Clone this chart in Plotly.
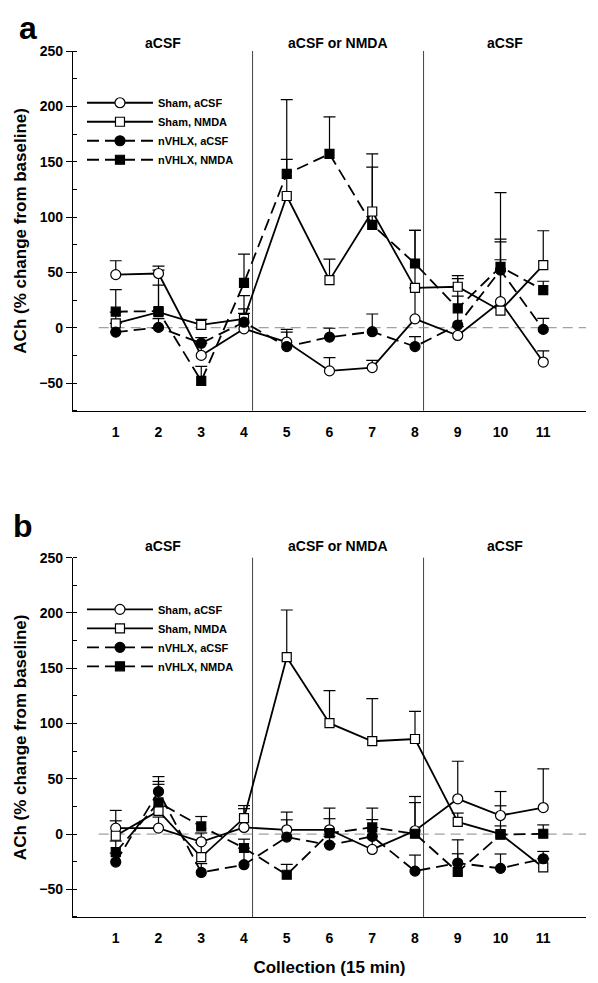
import plotly.graph_objects as go

# ---------------- data ----------------
collections = list(range(1, 12))
x_tick_labels = [str(c) for c in collections]
y_tick_values = [-50, 0, 50, 100, 150, 200, 250]
series_names = ["Sham, aCSF", "Sham, NMDA", "nVHLX, aCSF", "nVHLX, NMDA"]
phase_labels = ["aCSF", "aCSF or NMDA", "aCSF"]
phase_centers = [2.1, 6.2, 10.1]
phase_bounds = [4.2, 8.2]

# panel a: mean % change and upper SEM
a_sham_acsf = [48, 49, -25, -1, -13, -39, -36, 8, -7, 23.5, -31]
a_sham_acsf_err = [12.5, 6.7, 11, 18, 11.5, 12, 6.5, 28, 8, 54, 10]
a_sham_nmda = [4, 14, 2.5, 8, 119, 43, 105, 36, 37, 15.4, 56.6]
a_sham_nmda_err = [10, 38, 5, 21, 33, 19, 52, 52, 10, 46, 31]
a_nvhlx_acsf = [-4, 0.3, -14, 5, -17, -8.5, -3.6, -17, 2.4, 52, -1.5]
a_nvhlx_acsf_err = [8, 8, 5, 8, 13, 8, 16, 9, 42, 28, 10]
a_nvhlx_nmda = [14.5, 15, -48, 40.5, 139, 157, 93, 58, 17.5, 55, 34]
a_nvhlx_nmda_err = [20, 23.5, 13, 26, 67, 33.5, 52, 30, 11, 67, 8]

# panel b
b_sham_acsf = [5.4, 5.4, -7, 6, 3.9, 3.9, -13.9, 3, 31.9, 16.8, 24]
b_sham_acsf_err = [16, 10, 8, 17, 16, 19.6, 27, 25.5, 34, 21.7, 35]
b_sham_nmda = [-1.5, 21, -20.8, 14.5, 160, 100.3, 84, 86, 11, 0, -30.2]
b_sham_nmda_err = [13.5, 24, 13, 11.3, 42.7, 29.4, 38.5, 25, 8, 25.6, 8]
b_nvhlx_acsf = [-25.3, 38.5, -34.7, -27.7, -2.7, -10, -2.1, -33.5, -26.2, -31, -22.3]
b_nvhlx_acsf_err = [8, 13.5, 8, 15, 15.6, 8, 8, 14.5, 21, 13, 6.6]
b_nvhlx_nmda = [-16.3, 28.6, 6.9, -12.6, -36.8, 0.9, 6, 0.3, -34.3, -0.6, 0.3]
b_nvhlx_nmda_err = [10, 19, 9, 8, 9.4, 13, 17.5, 33.7, 16.5, 8, 8]

# ---------------- styles ----------------
FONT = "Liberation Sans, Arial, sans-serif"
styles = [
    dict(symbol="circle", fill="white", dash="solid", size=10),
    dict(symbol="square", fill="white", dash="solid", size=9),
    dict(symbol="circle", fill="black", dash="12px,6px", size=10),
    dict(symbol="square", fill="black", dash="12px,6px", size=9),
]
CAP_HALF = 0.14  # half width of error caps in x units


def err_path(xs, ys, es):
    ex, ey = [], []
    for xv, yv, ev in zip(xs, ys, es):
        top = yv + ev
        ex += [xv, xv, None, xv - CAP_HALF, xv + CAP_HALF, None]
        ey += [yv, top, None, top, top, None]
    return ex, ey


panels = [
    dict(xa="x", ya="y", legend="legend",
         series=[(a_sham_acsf, a_sham_acsf_err), (a_sham_nmda, a_sham_nmda_err),
                 (a_nvhlx_acsf, a_nvhlx_acsf_err), (a_nvhlx_nmda, a_nvhlx_nmda_err)]),
    dict(xa="x2", ya="y2", legend="legend2",
         series=[(b_sham_acsf, b_sham_acsf_err), (b_sham_nmda, b_sham_nmda_err),
                 (b_nvhlx_acsf, b_nvhlx_acsf_err), (b_nvhlx_nmda, b_nvhlx_nmda_err)]),
]

fig = go.Figure()

for p in panels:
    # error bars first (beneath markers)
    for (vals, errs) in p["series"]:
        ex, ey = err_path(collections, vals, errs)
        fig.add_trace(go.Scatter(x=ex, y=ey, mode="lines", xaxis=p["xa"], yaxis=p["ya"],
                                 line=dict(color="black", width=1.2),
                                 showlegend=False, hoverinfo="skip", cliponaxis=False))
    for name, st, (vals, errs) in zip(series_names, styles, p["series"]):
        fig.add_trace(go.Scatter(
            x=collections, y=vals, name=name, mode="lines+markers",
            xaxis=p["xa"], yaxis=p["ya"], legend=p["legend"],
            line=dict(color="black", width=1.8, dash=st["dash"]),
            marker=dict(symbol=st["symbol"], size=st["size"], color=st["fill"],
                        line=dict(color="black", width=1.2)),
            cliponaxis=False,
        ))

axis_common = dict(showline=True, linecolor="black", linewidth=1.3, showgrid=False,
                   zeroline=False, mirror=False)
xaxis_common = dict(axis_common, range=[0, 12], tickvals=collections, ticktext=x_tick_labels,
                    ticks="outside", ticklen=8, tickcolor="rgba(0,0,0,0)",
                    tickfont=dict(family=FONT, size=14, color="black", weight="bold"))
yaxis_common = dict(axis_common, range=[-75, 250], tickvals=y_tick_values,
                    ticks="outside", ticklen=6, tickwidth=1.2, tickcolor="black",
                    minor=dict(ticks="inside", dtick=25, tick0=0, ticklen=4, tickwidth=1.2,
                               tickcolor="black"),
                    tickfont=dict(family=FONT, size=14, color="black", weight="bold"),
                    title=dict(text="ACh (% change from baseline)", standoff=8,
                               font=dict(family=FONT, size=17, color="black", weight="bold")))

TOP_A = 0.5846
TOP_B = 0.4149

legend_common = dict(xanchor="left", yanchor="top", bgcolor="rgba(0,0,0,0)",
                     borderwidth=0, itemwidth=66, tracegroupgap=0,
                     font=dict(family=FONT, size=11, color="black", weight="bold"))

fig.update_layout(
    width=598, height=983, autosize=False,
    margin=dict(l=64.5, r=20, t=43, b=73.7),
    paper_bgcolor="white", plot_bgcolor="white",
    font=dict(family=FONT, color="black"),
    xaxis=dict(xaxis_common, domain=[0, 1], anchor="y"),
    yaxis=dict(yaxis_common, domain=[TOP_A, 1], anchor="x"),
    xaxis2=dict(xaxis_common, domain=[0, 1], anchor="y2",
                title=dict(text="Collection (15 min)", standoff=16,
                           font=dict(family=FONT, size=17, color="black", weight="bold"))),
    yaxis2=dict(yaxis_common, domain=[0, TOP_B], anchor="x2"),
    legend=dict(legend_common, x=0.0175, y=0.957),
    legend2=dict(legend_common, x=0.0175, y=0.372),
)

shapes = []
annotations = []
panel_letters = [
    (panels[0], "a", 8.5, dict(x=-0.109, y=1.0496, yanchor="top")),
    (panels[1], "b", 12, dict(x=-0.1205, y=0.452, yanchor="middle")),
]
for p, letter, lshift, pos in panel_letters:
    xa, ya = p["xa"], p["ya"]
    for b in phase_bounds:
        shapes.append(dict(type="line", xref=xa, x0=b, x1=b, yref=f"{ya} domain", y0=0, y1=1,
                           line=dict(color="#444444", width=1), layer="below"))
    shapes.append(dict(type="line", xref=xa, x0=0.6, x1=12, yref=ya, y0=0, y1=0,
                       line=dict(color="#888888", width=1, dash="10px,6px"), layer="below"))
    for lab, cx in zip(phase_labels, phase_centers):
        annotations.append(dict(text=lab, xref=xa, x=cx, yref=f"{ya} domain", y=1,
                                yanchor="middle", yshift=lshift, showarrow=False,
                                font=dict(family=FONT, size=14, color="black", weight="bold")))
    annotations.append(dict(text=letter, xref="paper", xanchor="left", yref="paper",
                            showarrow=False,
                            font=dict(family=FONT, size=32, color="black", weight="bold"),
                            **pos))

fig.update_layout(shapes=shapes, annotations=annotations)
fig.write_html("out.html")
